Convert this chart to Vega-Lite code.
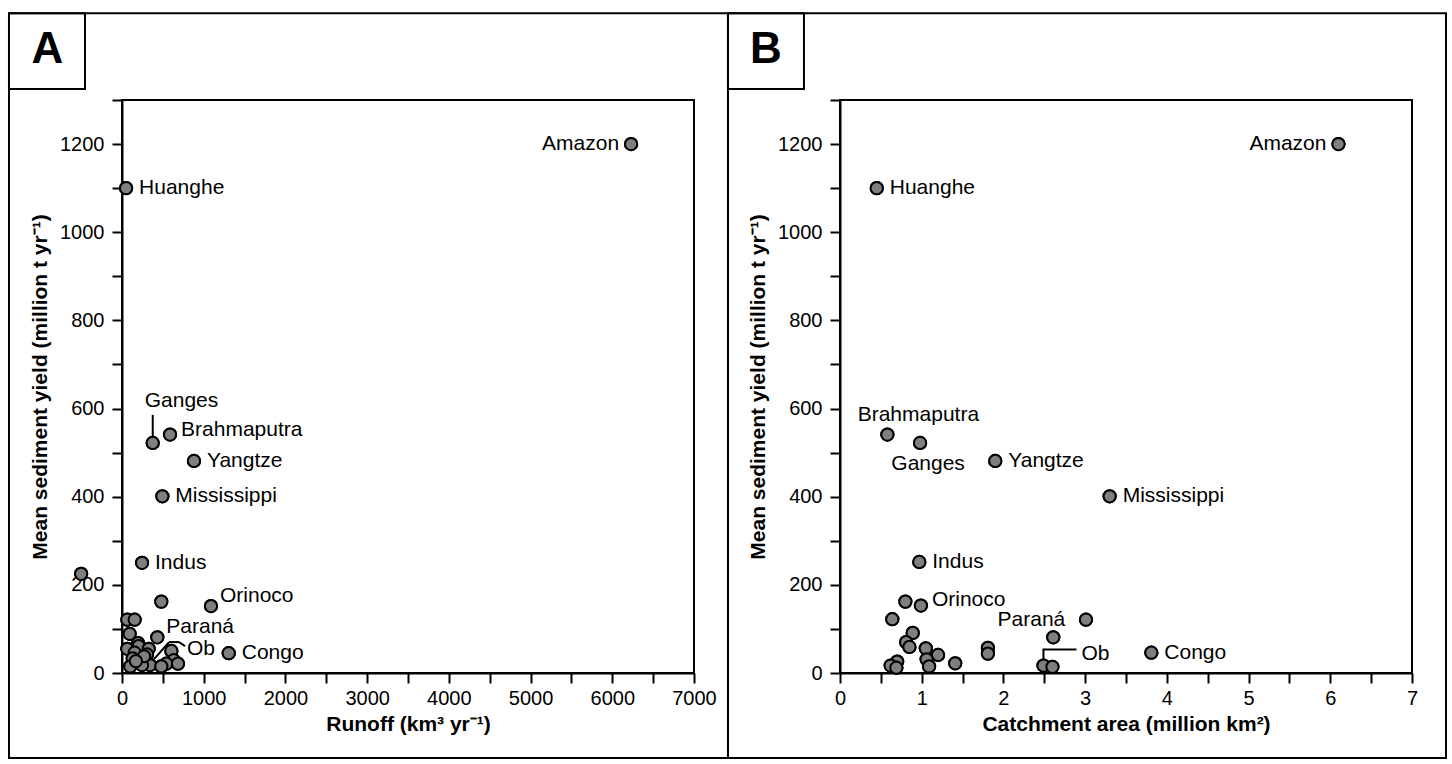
{
  "$schema": "https://vega.github.io/schema/vega-lite/v6.json",
  "padding": {"left": 6, "top": 11, "right": 6, "bottom": 6},
  "background": "white",
  "config": {
    "font": "Liberation Sans",
    "view": {"stroke": "black", "strokeWidth": 2},
    "axis": {
      "domainColor": "black", "domainWidth": 2, "tickColor": "black", "tickWidth": 2, "tickSize": 10,
      "labelFontSize": 20, "labelColor": "black", "labelOverlap": false, "labelFlush": false,
      "titleFontSize": 21, "titleFontWeight": "bold", "titleColor": "black", "grid": false
    },
    "axisX": {"labelPadding": 5, "titlePadding": 5},
    "axisY": {"labelPadding": 8, "titlePadding": 9},
    "text": {"fontSize": 21, "baseline": "middle", "color": "black"}
  },
  "datasets": {
    "runoff": [
      {"river": "Amazon", "runoff": 6230, "yield": 1200},
      {"river": "Huanghe", "runoff": 50, "yield": 1100},
      {"river": "Ganges", "runoff": 376, "yield": 522},
      {"river": "Brahmaputra", "runoff": 588, "yield": 541},
      {"river": "Yangtze", "runoff": 881, "yield": 481},
      {"river": "Mississippi", "runoff": 494, "yield": 401},
      {"river": "Indus", "runoff": 245, "yield": 250},
      {"river": "Orinoco", "runoff": 1089, "yield": 152},
      {"river": "Paraná", "runoff": 432, "yield": 81},
      {"river": "Ob", "runoff": 343, "yield": 18},
      {"river": "Congo", "runoff": 1306, "yield": 45},
      {"river": "", "runoff": -500, "yield": 225},
      {"river": "", "runoff": 481, "yield": 162},
      {"river": "", "runoff": 65, "yield": 121},
      {"river": "", "runoff": 155, "yield": 121},
      {"river": "", "runoff": 94, "yield": 89},
      {"river": "", "runoff": 196, "yield": 68},
      {"river": "", "runoff": 204, "yield": 61},
      {"river": "", "runoff": 65, "yield": 55},
      {"river": "", "runoff": 327, "yield": 55},
      {"river": "", "runoff": 604, "yield": 50},
      {"river": "", "runoff": 155, "yield": 46},
      {"river": "", "runoff": 306, "yield": 42},
      {"river": "", "runoff": 131, "yield": 33},
      {"river": "", "runoff": 633, "yield": 29},
      {"river": "", "runoff": 543, "yield": 21},
      {"river": "", "runoff": 685, "yield": 21},
      {"river": "", "runoff": 102, "yield": 15},
      {"river": "", "runoff": 245, "yield": 18},
      {"river": "", "runoff": 481, "yield": 15},
      {"river": "", "runoff": 270, "yield": 38},
      {"river": "", "runoff": 170, "yield": 27}
    ],
    "area": [
      {"river": "Amazon", "area": 6.1, "yield": 1200},
      {"river": "Huanghe", "area": 0.45, "yield": 1100},
      {"river": "Brahmaputra", "area": 0.58, "yield": 541},
      {"river": "Ganges", "area": 0.98, "yield": 522},
      {"river": "Yangtze", "area": 1.9, "yield": 481},
      {"river": "Mississippi", "area": 3.3, "yield": 401},
      {"river": "Indus", "area": 0.97, "yield": 252},
      {"river": "Orinoco", "area": 0.99, "yield": 153},
      {"river": "Paraná", "area": 2.61, "yield": 81},
      {"river": "Ob", "area": 2.49, "yield": 17},
      {"river": "Congo", "area": 3.81, "yield": 46},
      {"river": "", "area": 0.8, "yield": 162},
      {"river": "", "area": 0.64, "yield": 122},
      {"river": "", "area": 3.01, "yield": 121},
      {"river": "", "area": 0.89, "yield": 91},
      {"river": "", "area": 0.81, "yield": 70},
      {"river": "", "area": 0.85, "yield": 59},
      {"river": "", "area": 1.05, "yield": 56},
      {"river": "", "area": 1.81, "yield": 57},
      {"river": "", "area": 1.81, "yield": 44},
      {"river": "", "area": 1.2, "yield": 41},
      {"river": "", "area": 1.06, "yield": 31},
      {"river": "", "area": 1.41, "yield": 22},
      {"river": "", "area": 0.7, "yield": 26},
      {"river": "", "area": 0.62, "yield": 17},
      {"river": "", "area": 0.69, "yield": 12},
      {"river": "", "area": 1.09, "yield": 15},
      {"river": "", "area": 2.6, "yield": 14}
    ]
  },
  "bounds": "flush",
  "spacing": 146,
  "hconcat": [
    {
      "width": 572,
      "height": 573,
      "layer": [
        {
          "data": {"name": "runoff"},
          "mark": {"type": "circle", "size": 150, "color": "#7f7f7f", "opacity": 1, "stroke": "black", "strokeWidth": 2},
          "encoding": {
            "x": {
              "field": "runoff", "type": "quantitative",
              "scale": {"domain": [0, 7000], "nice": false, "zero": false},
              "axis": {
                "title": "Runoff (km³ yr⁻¹)", "format": "d",
                "values": [0, 500, 1000, 1500, 2000, 2500, 3000, 3500, 4000, 4500, 5000, 5500, 6000, 6500, 7000],
                "labelExpr": "datum.value % 1000 === 0 ? datum.label : ''"
              }
            },
            "y": {
              "field": "yield", "type": "quantitative",
              "scale": {"domain": [0, 1300], "nice": false, "zero": false},
              "axis": {
                "title": "Mean sediment yield (million t yr⁻¹)", "format": "d",
                "values": [0, 100, 200, 300, 400, 500, 600, 700, 800, 900, 1000, 1100, 1200, 1300],
                "labelExpr": "datum.value % 200 === 0 ? datum.label : ''"
              }
            }
          }
        },
        {
          "data": {"values": [{}]},
          "mark": {"type": "rect", "filled": false, "stroke": "black", "strokeWidth": 2},
          "encoding": {
            "x": {"datum": -1383, "type": "quantitative"},
            "x2": {"datum": 7416},
            "y": {"datum": 1497, "type": "quantitative"},
            "y2": {"datum": -193}
          }
        },
        {
          "data": {"values": [{}]},
          "mark": {"type": "rect", "filled": false, "stroke": "black", "strokeWidth": 2},
          "encoding": {
            "x": {"datum": -1383, "type": "quantitative"},
            "x2": {"datum": -453},
            "y": {"datum": 1497, "type": "quantitative"},
            "y2": {"datum": 1325}
          }
        },
        {
          "data": {"values": [{}]},
          "mark": {"type": "text", "fontSize": 44, "fontWeight": "bold", "align": "center", "baseline": "middle"},
          "encoding": {
            "x": {"datum": -912, "type": "quantitative"},
            "y": {"datum": 1413, "type": "quantitative"},
            "text": {"value": "A"}
          }
        },
        {
          "data": {"name": "runoff"},
          "transform": [{"filter": "datum.river === 'Ganges'"}],
          "mark": {"type": "rule", "color": "black", "strokeWidth": 2, "yOffset": -6, "y2Offset": -28},
          "encoding": {
            "x": {"field": "runoff", "type": "quantitative"},
            "y": {"field": "yield", "type": "quantitative"},
            "y2": {"field": "yield"}
          }
        },
        {
          "data": {"name": "runoff"},
          "transform": [{"filter": "datum.river === 'Ob'"}],
          "mark": {"type": "rule", "color": "black", "strokeWidth": 2, "xOffset": 4, "yOffset": -6, "x2Offset": 19, "y2Offset": -23},
          "encoding": {
            "x": {"field": "runoff", "type": "quantitative"},
            "x2": {"field": "runoff"},
            "y": {"field": "yield", "type": "quantitative"},
            "y2": {"field": "yield"}
          }
        },
        {
          "data": {"name": "runoff"},
          "transform": [{"filter": "datum.river === 'Ob'"}],
          "mark": {"type": "rule", "color": "black", "strokeWidth": 2, "xOffset": 19, "yOffset": -23, "x2Offset": 29, "y2Offset": -23},
          "encoding": {
            "x": {"field": "runoff", "type": "quantitative"},
            "x2": {"field": "runoff"},
            "y": {"field": "yield", "type": "quantitative"},
            "y2": {"field": "yield"}
          }
        },
        {
          "data": {"name": "runoff"},
          "transform": [{"filter": "datum.river === 'Ob'"}],
          "mark": {"type": "rule", "color": "black", "strokeWidth": 2, "xOffset": 29, "yOffset": -23, "x2Offset": 35, "y2Offset": -19},
          "encoding": {
            "x": {"field": "runoff", "type": "quantitative"},
            "x2": {"field": "runoff"},
            "y": {"field": "yield", "type": "quantitative"},
            "y2": {"field": "yield"}
          }
        },
        {
          "data": {"name": "runoff"},
          "mark": {"type": "circle", "size": 150, "color": "#7f7f7f", "opacity": 1, "stroke": "black", "strokeWidth": 2},
          "encoding": {
            "x": {"field": "runoff", "type": "quantitative"},
            "y": {"field": "yield", "type": "quantitative"}
          }
        },
        {
          "data": {"name": "runoff"},
          "transform": [{"filter": "datum.river === 'Amazon'"}],
          "mark": {"type": "text", "align": "right", "dx": -12},
          "encoding": {"x": {"field": "runoff", "type": "quantitative"}, "y": {"field": "yield", "type": "quantitative"}, "text": {"field": "river"}}
        },
        {
          "data": {"name": "runoff"},
          "transform": [{"filter": {"field": "river", "oneOf": ["Huanghe", "Yangtze", "Mississippi", "Indus", "Congo"]}}],
          "mark": {"type": "text", "align": "left", "dx": 13},
          "encoding": {"x": {"field": "runoff", "type": "quantitative"}, "y": {"field": "yield", "type": "quantitative"}, "text": {"field": "river"}}
        },
        {
          "data": {"name": "runoff"},
          "transform": [{"filter": "datum.river === 'Brahmaputra'"}],
          "mark": {"type": "text", "align": "left", "dx": 11, "dy": -5},
          "encoding": {"x": {"field": "runoff", "type": "quantitative"}, "y": {"field": "yield", "type": "quantitative"}, "text": {"field": "river"}}
        },
        {
          "data": {"name": "runoff"},
          "transform": [{"filter": {"field": "river", "oneOf": ["Orinoco", "Paraná"]}}],
          "mark": {"type": "text", "align": "left", "dx": 9, "dy": -10},
          "encoding": {"x": {"field": "runoff", "type": "quantitative"}, "y": {"field": "yield", "type": "quantitative"}, "text": {"field": "river"}}
        },
        {
          "data": {"name": "runoff"},
          "transform": [{"filter": "datum.river === 'Ganges'"}],
          "mark": {"type": "text", "align": "left", "dx": -8, "dy": -42},
          "encoding": {"x": {"field": "runoff", "type": "quantitative"}, "y": {"field": "yield", "type": "quantitative"}, "text": {"field": "river"}}
        },
        {
          "data": {"name": "runoff"},
          "transform": [{"filter": "datum.river === 'Ob'"}],
          "mark": {"type": "text", "align": "left", "dx": 37, "dy": -16},
          "encoding": {"x": {"field": "runoff", "type": "quantitative"}, "y": {"field": "yield", "type": "quantitative"}, "text": {"field": "river"}}
        }
      ]
    },
    {
      "width": 572,
      "height": 573,
      "layer": [
        {
          "data": {"name": "area"},
          "mark": {"type": "circle", "size": 150, "color": "#7f7f7f", "opacity": 1, "stroke": "black", "strokeWidth": 2},
          "encoding": {
            "x": {
              "field": "area", "type": "quantitative",
              "scale": {"domain": [0, 7], "nice": false, "zero": false},
              "axis": {
                "title": "Catchment area (million km²)", "format": "~g",
                "values": [0, 0.5, 1, 1.5, 2, 2.5, 3, 3.5, 4, 4.5, 5, 5.5, 6, 6.5, 7],
                "labelExpr": "datum.value % 1 === 0 ? datum.label : ''"
              }
            },
            "y": {
              "field": "yield", "type": "quantitative",
              "scale": {"domain": [0, 1300], "nice": false, "zero": false},
              "axis": {
                "title": "Mean sediment yield (million t yr⁻¹)", "format": "d",
                "values": [0, 100, 200, 300, 400, 500, 600, 700, 800, 900, 1000, 1100, 1200, 1300],
                "labelExpr": "datum.value % 200 === 0 ? datum.label : ''"
              }
            }
          }
        },
        {
          "data": {"values": [{}]},
          "mark": {"type": "rect", "filled": false, "stroke": "black", "strokeWidth": 2},
          "encoding": {
            "x": {"datum": -1.371, "type": "quantitative"},
            "x2": {"datum": 7.416},
            "y": {"datum": 1497, "type": "quantitative"},
            "y2": {"datum": -193}
          }
        },
        {
          "data": {"values": [{}]},
          "mark": {"type": "rect", "filled": false, "stroke": "black", "strokeWidth": 2},
          "encoding": {
            "x": {"datum": -1.371, "type": "quantitative"},
            "x2": {"datum": -0.441},
            "y": {"datum": 1497, "type": "quantitative"},
            "y2": {"datum": 1325}
          }
        },
        {
          "data": {"values": [{}]},
          "mark": {"type": "text", "fontSize": 44, "fontWeight": "bold", "align": "center", "baseline": "middle"},
          "encoding": {
            "x": {"datum": -0.906, "type": "quantitative"},
            "y": {"datum": 1413, "type": "quantitative"},
            "text": {"value": "B"}
          }
        },
        {
          "data": {"name": "area"},
          "transform": [{"filter": "datum.river === 'Ob'"}],
          "mark": {"type": "rule", "color": "black", "strokeWidth": 2, "yOffset": -6, "y2Offset": -16},
          "encoding": {
            "x": {"field": "area", "type": "quantitative"},
            "y": {"field": "yield", "type": "quantitative"},
            "y2": {"field": "yield"}
          }
        },
        {
          "data": {"name": "area"},
          "transform": [{"filter": "datum.river === 'Ob'"}],
          "mark": {"type": "rule", "color": "black", "strokeWidth": 2, "xOffset": -1, "x2Offset": 33, "yOffset": -16},
          "encoding": {
            "x": {"field": "area", "type": "quantitative"},
            "x2": {"field": "area"},
            "y": {"field": "yield", "type": "quantitative"}
          }
        },
        {
          "data": {"name": "area"},
          "mark": {"type": "circle", "size": 150, "color": "#7f7f7f", "opacity": 1, "stroke": "black", "strokeWidth": 2},
          "encoding": {
            "x": {"field": "area", "type": "quantitative"},
            "y": {"field": "yield", "type": "quantitative"}
          }
        },
        {
          "data": {"name": "area"},
          "transform": [{"filter": "datum.river === 'Amazon'"}],
          "mark": {"type": "text", "align": "right", "dx": -12},
          "encoding": {"x": {"field": "area", "type": "quantitative"}, "y": {"field": "yield", "type": "quantitative"}, "text": {"field": "river"}}
        },
        {
          "data": {"name": "area"},
          "transform": [{"filter": {"field": "river", "oneOf": ["Huanghe", "Yangtze", "Mississippi", "Indus", "Congo"]}}],
          "mark": {"type": "text", "align": "left", "dx": 13},
          "encoding": {"x": {"field": "area", "type": "quantitative"}, "y": {"field": "yield", "type": "quantitative"}, "text": {"field": "river"}}
        },
        {
          "data": {"name": "area"},
          "transform": [{"filter": "datum.river === 'Brahmaputra'"}],
          "mark": {"type": "text", "align": "center", "dx": 31, "dy": -20},
          "encoding": {"x": {"field": "area", "type": "quantitative"}, "y": {"field": "yield", "type": "quantitative"}, "text": {"field": "river"}}
        },
        {
          "data": {"name": "area"},
          "transform": [{"filter": "datum.river === 'Ganges'"}],
          "mark": {"type": "text", "align": "center", "dx": 8, "dy": 21},
          "encoding": {"x": {"field": "area", "type": "quantitative"}, "y": {"field": "yield", "type": "quantitative"}, "text": {"field": "river"}}
        },
        {
          "data": {"name": "area"},
          "transform": [{"filter": "datum.river === 'Orinoco'"}],
          "mark": {"type": "text", "align": "left", "dx": 11, "dy": -6},
          "encoding": {"x": {"field": "area", "type": "quantitative"}, "y": {"field": "yield", "type": "quantitative"}, "text": {"field": "river"}}
        },
        {
          "data": {"name": "area"},
          "transform": [{"filter": "datum.river === 'Paraná'"}],
          "mark": {"type": "text", "align": "right", "dx": 12, "dy": -17},
          "encoding": {"x": {"field": "area", "type": "quantitative"}, "y": {"field": "yield", "type": "quantitative"}, "text": {"field": "river"}}
        },
        {
          "data": {"name": "area"},
          "transform": [{"filter": "datum.river === 'Ob'"}],
          "mark": {"type": "text", "align": "left", "dx": 38, "dy": -12},
          "encoding": {"x": {"field": "area", "type": "quantitative"}, "y": {"field": "yield", "type": "quantitative"}, "text": {"field": "river"}}
        }
      ]
    }
  ]
}
